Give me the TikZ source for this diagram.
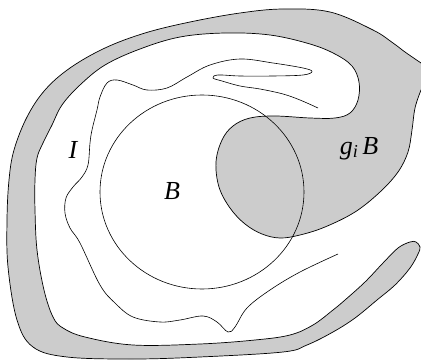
\documentclass[tikz,border=0pt]{standalone}
\usepackage{fontspec}
\setmainfont{Liberation Serif}
\definecolor{orbgray}{HTML}{CCCCCC}

\begin{document}
\begin{tikzpicture}[x=1pt, y=-1pt,
  region/.style={fill=orbgray, draw=black, line width=0.7pt},
  contour/.style={draw=black, line width=0.6pt},
  lbl/.style={anchor=base, inner sep=0pt, font=\fontsize{26}{30}\selectfont\itshape}]

\useasboundingbox (0,0) rectangle (421,361);
\clip (0,0) rectangle (421,361);

% ---- shaded band and g_i B -------------------------------------------
\path[region] plot[smooth, tension=0.6] coordinates {
  (421,90) (415,108) (412,130) (408,152) (398,172) (380,192) (355,212)
  (325,227) (300,235) (280,238) (262,234) (245,224) (230,208) (219,187)
  (216,162) (222,140) (233,126) (250,118) (275,116) (310,118) (335,118)
  (350,113) (358,100) (359,82) (352,66) (335,54) (310,44) (270,35)
  (225,33) (180,37) (140,49) (105,65) (80,85) (62,105) (52,125)
  (43,143) (37,158) (35,180) (35,210) (37,250) (44,290) (53,317)
  (63,328) (85,337) (133,345) (200,344) (255,340) (290,335) (313,325)
  (333,310) (345,300) (365,282) (383,263) (398,248) (410,242) (416,242)
  (420,247) (418,254) (410,268) (395,285) (377,300) (355,318) (333,332)
  (307,345) (283,352) (200,357) (133,359) (67,357) (33,347) (17,320)
  (8,267) (7,220) (9,180) (14,150) (27,117) (45,90) (70,68) (105,48)
  (145,33) (190,22) (240,13) (283,9) (330,12) (373,30) (393,43)
  (405,52) (421,63)}
  -- (440,63) -- (440,90) -- cycle;

% ---- the ball B ------------------------------------------------------
\draw[contour] (202,192) ellipse [x radius=102, y radius=97];

% ---- the curve I -----------------------------------------------------
\draw[contour] plot[smooth, tension=0.6] coordinates {
  (318,108) (300,100) (283,94) (260,89) (240,86) (222,81) (213,78)
  (218,75) (240,76) (273,76) (303,75) (312,71.5) (303,68) (273,63)
  (240,59) (210,65) (187,77) (167,88) (147,90) (133,85) (117,80)
  (107,83) (100,97) (97,110) (92,130) (90,143) (88,165) (82,177)
  (73,187) (66,198) (65,213) (70,228) (80,243) (100,285) (115,303)
  (133,317) (160,322) (180,320) (203,316) (217,322) (228,332)
  (235,327) (247,308) (270,290) (300,272) (338,254)};

% ---- labels ----------------------------------------------------------
\node[lbl] (labI) at (73,158) {I};
\node[lbl] (labB) at (172,200) {B};
\node[lbl] (labgB) at (359,154) {g\textsubscript{i}\hspace{4pt}B};
\end{tikzpicture}
\end{document}
